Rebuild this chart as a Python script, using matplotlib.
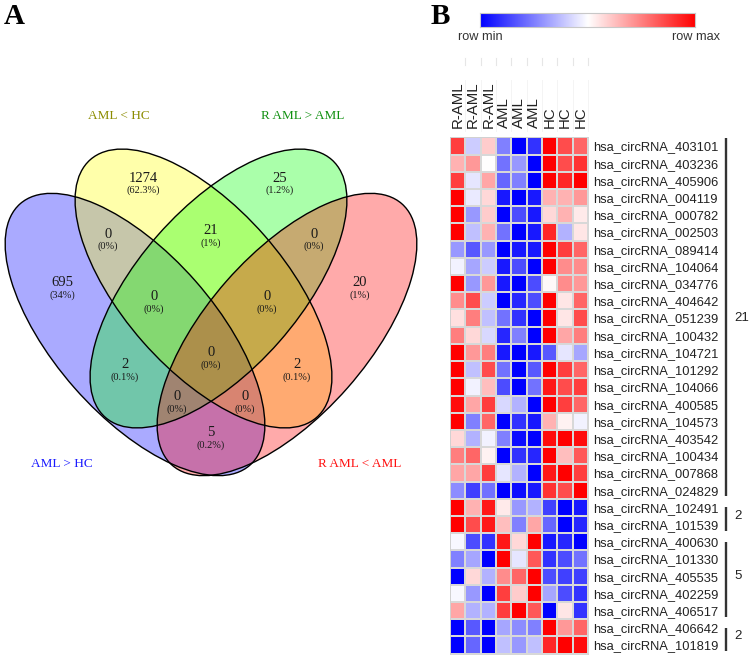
import numpy as np
import matplotlib.pyplot as plt
from matplotlib.patches import Ellipse

# ---- panel A: 4 set venn ----
set_names = ['AML > HC', 'AML < HC', 'R AML > AML', 'R AML < AML']
set_fill = ['#0000ff', '#ffff00', '#00ff00', '#ff0000']
set_text_col = ['#1a1aff', '#8c8c00', '#109010', '#ff1010']

regions = ['B', 'Y', 'G', 'P', 'BY', 'YG', 'GP', 'BYG', 'YGP', 'BG', 'YP', 'BYGP', 'BGP', 'BYP', 'BP']
counts = [695, 1274, 25, 20, 0, 21, 0, 0, 0, 2, 2, 0, 0, 0, 5]

# ---- panel B: heatmap ----
col_labels = ['R-AML', 'R-AML', 'R-AML', 'AML', 'AML', 'AML', 'HC', 'HC', 'HC']
row_labels = ['hsa_circRNA_403101', 'hsa_circRNA_403236', 'hsa_circRNA_405906', 'hsa_circRNA_004119',
              'hsa_circRNA_000782', 'hsa_circRNA_002503', 'hsa_circRNA_089414', 'hsa_circRNA_104064',
              'hsa_circRNA_034776', 'hsa_circRNA_404642', 'hsa_circRNA_051239', 'hsa_circRNA_100432',
              'hsa_circRNA_104721', 'hsa_circRNA_101292', 'hsa_circRNA_104066', 'hsa_circRNA_400585',
              'hsa_circRNA_104573', 'hsa_circRNA_403542', 'hsa_circRNA_100434', 'hsa_circRNA_007868',
              'hsa_circRNA_024829', 'hsa_circRNA_102491', 'hsa_circRNA_101539', 'hsa_circRNA_400630',
              'hsa_circRNA_101330', 'hsa_circRNA_405535', 'hsa_circRNA_402259', 'hsa_circRNA_406517',
              'hsa_circRNA_406642', 'hsa_circRNA_101819']
values = np.array([
    [0.75, -0.2, 0.2, -0.5, -1, -0.8, 1, 0.7, 0.6],
    [0.3, 0.4, 0.0, -0.55, -0.4, -1, 1, 0.7, 0.8],
    [0.75, -0.1, 0.35, -0.6, -0.5, -1, 1, 0.85, 1],
    [1, -0.08, 0.15, -0.9, -1, -0.9, 0.3, 0.3, 0.4],
    [1, -0.4, 0.2, -1, -0.7, -0.9, 0.15, 0.3, 0.08],
    [1, -0.25, 0.3, -0.55, -1, -0.9, 0.85, -0.3, 0.1],
    [-0.4, -0.65, -0.4, -1, -0.9, -0.9, 1, 0.75, 0.6],
    [-0.05, -0.35, -0.2, -0.9, -0.7, -1, 1, 0.45, 0.45],
    [1, -0.4, 0.4, -0.9, -1, -0.7, 0.03, 0.45, 0.4],
    [0.45, 0.7, -0.2, -1, -0.85, -0.7, 1, 0.1, 0.6],
    [0.12, 0.5, -0.25, -0.55, -0.8, -1, 1, 0.1, 0.7],
    [0.5, 0.15, -0.15, -0.85, -0.5, -1, 1, 0.35, 0.5],
    [1, 0.4, 0.5, -0.9, -1, -0.9, -0.65, -0.1, -0.35],
    [1, -0.25, 0.7, -0.55, -1, -0.65, 1, 0.75, 0.6],
    [1, -0.05, 0.25, -0.7, -1, -0.55, 0.9, 0.7, 0.75],
    [0.95, 0.35, 0.75, -0.15, -0.3, -1, 1, 0.75, 0.6],
    [1, -0.5, 0.6, -1, -0.8, -0.9, 0.3, 0.05, -0.05],
    [0.15, -0.3, -0.05, -0.5, -0.95, -1, 0.95, 1, 0.95],
    [0.5, 0.6, 0.05, -1, -0.8, -0.85, 1, 0.25, 0.65],
    [0.35, 0.35, 0.75, -0.1, -0.3, -1, 0.9, 1, 0.75],
    [-0.45, -0.75, -0.55, -1, -0.95, -0.9, 0.8, 0.7, 1],
    [1, 0.3, 0.9, 0.08, -0.4, -0.3, -0.75, -1, -0.9],
    [1, 0.7, 0.9, 0.25, -0.5, 0.35, -0.6, -1, -0.85],
    [-0.03, -0.7, -0.8, 0.9, 0.15, 1, -0.9, -0.85, -1],
    [-0.5, -0.35, -1, 1, -0.1, 0.65, -0.8, -0.7, -0.55],
    [-1, 0.15, -0.3, 0.45, 0.6, 1, -0.7, -0.75, -0.75],
    [-0.03, -0.4, -1, 0.75, 0.2, 1, -0.35, -0.7, -0.8],
    [0.35, -0.3, -0.3, 0.75, 1, 0.65, -1, 0.1, -0.8],
    [-1, -0.65, -1, -0.35, -0.45, -0.5, 1, 0.4, 0.6],
    [-1, -0.6, -1, -0.25, -0.4, -0.25, 0.85, 1, 0.95],
])
group_sizes = [21, 2, 5, 2]

W, H = 750, 656
fig = plt.figure(figsize=(W / 100, H / 100), dpi=100)

# overlay axes in pixel units (y down)
ax0 = fig.add_axes([0, 0, 1, 1])
ax0.set_xlim(0, W)
ax0.set_ylim(H, 0)
ax0.axis('off')

serif = 'Liberation Serif'
sans = 'Liberation Sans'

# ellipses (pixel geometry)
ell_xy = [(135, 334.5), (203.5, 288.5), (218.5, 288.5), (287, 334.5)]
ell_w = [348, 343, 343, 348]
ell_h = [161.4, 161.5, 161.5, 161.4]
ell_ang = [48.7, 48.7, -48.7, -48.7]
for i in range(4):
    ax0.add_patch(Ellipse(ell_xy[i], ell_w[i], ell_h[i], angle=ell_ang[i],
                          facecolor=set_fill[i], alpha=1 / 3, edgecolor='none'))
for i in range(4):
    ax0.add_patch(Ellipse(ell_xy[i], ell_w[i], ell_h[i], angle=ell_ang[i],
                          facecolor='none', edgecolor='black', lw=1.0))

# region label positions
reg_pos = {'B': (62, 283), 'Y': (143, 178), 'G': (280, 178), 'P': (360, 283),
           'BY': (108, 234), 'YG': (211, 231), 'GP': (314, 234),
           'BYG': (154, 297), 'YGP': (267, 297), 'BG': (125, 365), 'YP': (297, 365),
           'BYGP': (211, 353), 'BGP': (177, 397), 'BYP': (245, 397), 'BP': (211, 433)}
total = sum(counts)
for r, c in zip(regions, counts):
    x, y = reg_pos[r]
    pct = round(100 * c / total, 1)
    ax0.text(x, y, str(c), ha='center', va='center', fontsize=10.5, family=serif, color='#1a1a1a')
    ax0.text(x, y + 12, '(%g%%)' % pct, ha='center', va='center', fontsize=7.5, family=serif, color='#1a1a1a')

name_pos = [(62, 464), (119, 116), (303, 116), (360, 464)]
for name, pos, col in zip(set_names, name_pos, set_text_col):
    ax0.text(pos[0], pos[1], name, ha='center', va='center', fontsize=9.5, family=serif, color=col)

ax0.text(14, 16, 'A', ha='center', va='center', fontsize=21, family=serif, weight='bold')
ax0.text(440, 16, 'B', ha='center', va='center', fontsize=21, family=serif, weight='bold')

# heatmap
hx0, hx1, hy0, hy1 = 450, 588, 137.4, 653.6
ax = fig.add_axes([hx0 / W, 1 - hy1 / H, (hx1 - hx0) / W, (hy1 - hy0) / H])
ax.pcolormesh(values, cmap='bwr', vmin=-1, vmax=1, edgecolors='#d8d8d8', linewidth=0.3)
ax.set_xlim(0, values.shape[1])
ax.set_ylim(values.shape[0], 0)
ax.xaxis.tick_top()
ax.set_xticks(np.arange(len(col_labels)) + 0.5, col_labels, rotation=90, fontsize=10.8, family=sans, color='#222222')
ax.yaxis.tick_right()
ax.set_yticks(np.arange(len(row_labels)) + 0.5, row_labels, fontsize=9.3, family=sans, color='#222222')
ax.tick_params(axis='x', length=0, pad=6.5)
ax.tick_params(axis='y', length=0, pad=3.6)
for s in ax.spines.values():
    s.set_color('#d0d0d0')
    s.set_linewidth(0.6)

# faint guide marks above the columns
cw = (hx1 - hx0) / values.shape[1]
for j in range(1, values.shape[1] + 1):
    xe = hx0 + j * cw
    ax0.plot([xe, xe], [58, 65], color='#e6e6e6', lw=0.8)
    ax0.plot([xe, xe], [80, 131], color='#f2f2f2', lw=0.6)

# colour key
cax = fig.add_axes([480 / W, 1 - 27 / H, 215 / W, 14 / H])
cax.imshow(np.linspace(-1, 1, 256)[None, :], aspect='auto', cmap='bwr', vmin=-1, vmax=1)
cax.set_xticks([])
cax.set_yticks([])
for s in cax.spines.values():
    s.set_color('#c8c8c8')
    s.set_linewidth(0.8)
ax0.text(480, 37, 'row min', ha='center', va='center', fontsize=9.2, family=sans, color='#333333')
ax0.text(696, 37, 'row max', ha='center', va='center', fontsize=9.2, family=sans, color='#333333')

# group brackets
rh = (hy1 - hy0) / values.shape[0]
start = 0
for gi, g in enumerate(group_sizes):
    top = hy0 + start * rh
    bot = hy0 + (start + g) * rh
    t0 = top + (0.05 if gi == 0 else 0.5) * rh
    ax0.plot([726, 726], [t0, bot - 0.15 * rh], color='#333333', lw=1.7, solid_capstyle='butt')
    ax0.text(734, (top + bot) / 2, str(g), ha='left', va='center', fontsize=9.5, family=sans, color='#222222')
    start += g

fig.savefig('out.png', dpi=100)
